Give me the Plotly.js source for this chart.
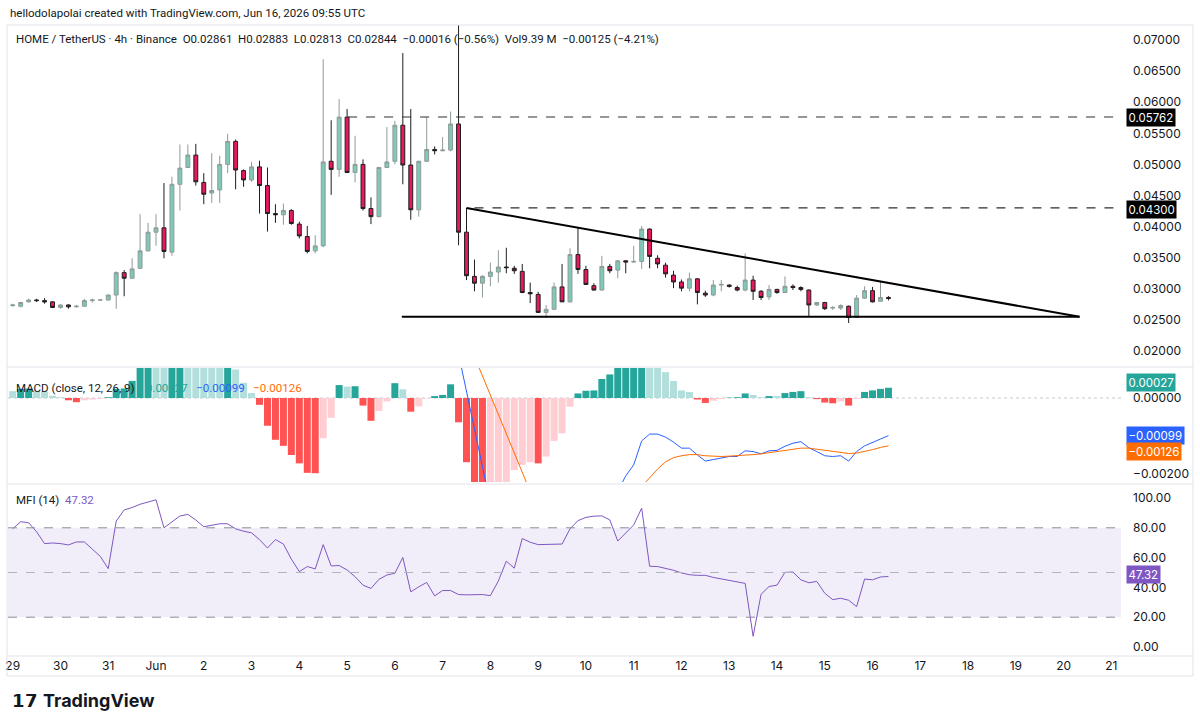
<!DOCTYPE html>
<html>
<head>
<meta charset="utf-8">
<script src="https://cdn.plot.ly/plotly-3.0.1.min.js"></script>
<style>
  html, body { margin: 0; padding: 0; background: #ffffff; }
  #chart { width: 1200px; height: 727px; }
</style>
</head>
<body>
<div id="chart"></div>
<script>
// ---------- DATA ----------
const startTime = '2026-05-29 00:00';   // first 4h bar
const barHours = 4;

const openP = [0.0273,0.0272,0.0279,0.0282,0.0281,0.0279,0.0270,0.0274,0.0271,0.0272,
  0.0281,0.0282,0.0282,0.0290,0.0326,0.0317,0.0333,0.0361,0.0391,0.0398,
  0.0359,0.0468,0.0495,0.0515,0.0471,0.0454,0.0459,0.0500,0.0537,0.0490,
  0.0475,0.0496,0.0466,0.0421,0.0419,0.0426,0.0404,0.0384,0.0361,0.0369,
  0.0505,0.0492,0.0576,0.0487,0.0500,0.0429,0.0416,0.0495,0.0505,0.0563,
  0.0499,0.0427,0.0505,0.0524,0.0522,0.0523,0.0565,0.0391,0.0320,0.0309,
  0.0320,0.0327,0.0335,0.0333,0.0328,0.0294,0.0291,0.0262,0.0267,0.0303,
  0.0279,0.0355,0.0331,0.0305,0.0298,0.0336,0.0330,0.0345,0.0343,0.0344,
  0.0396,0.0349,0.0338,0.0322,0.0311,0.0301,0.0316,0.0293,0.0290,0.0306,
  0.0306,0.0302,0.0298,0.0314,0.0296,0.0287,0.0299,0.0294,0.0304,0.0302,
  0.0298,0.0274,0.0278,0.0269,0.0269,0.0272,0.0254,0.0285,0.0297,0.0280,
  0.02861];
const highP = [0.0276,0.0279,0.0284,0.0284,0.0285,0.0280,0.0275,0.0275,0.0274,0.0284,
  0.0284,0.0283,0.0291,0.0328,0.0330,0.0349,0.0420,0.0406,0.0420,0.0470,
  0.0480,0.0532,0.0532,0.0533,0.0486,0.0518,0.0514,0.0549,0.0540,0.0492,
  0.0504,0.0506,0.0495,0.0436,0.0437,0.0428,0.0408,0.0401,0.0386,0.0669,
  0.0571,0.0605,0.0589,0.0546,0.0508,0.0447,0.0496,0.0560,0.0570,0.0679,
  0.0589,0.0506,0.0576,0.0529,0.0544,0.0585,0.0735,0.0430,0.0347,0.0322,
  0.0342,0.0362,0.0366,0.0337,0.0340,0.0310,0.0295,0.0274,0.0310,0.0340,
  0.0365,0.0398,0.0337,0.0309,0.0353,0.0340,0.0346,0.0346,0.0369,0.0401,
  0.0397,0.0354,0.0342,0.0329,0.0315,0.0326,0.0317,0.0297,0.0314,0.0314,
  0.0307,0.0305,0.0357,0.0321,0.0298,0.0306,0.0300,0.0320,0.0307,0.0304,
  0.0299,0.0279,0.0279,0.0272,0.0275,0.0273,0.0290,0.0304,0.0303,0.0311,
  0.02883];
const lowP = [0.0271,0.0270,0.0278,0.0279,0.0276,0.0269,0.0268,0.0268,0.0270,0.0271,
  0.0278,0.0281,0.0281,0.0268,0.0288,0.0316,0.0332,0.0360,0.0369,0.0349,
  0.0353,0.0426,0.0494,0.0466,0.0436,0.0438,0.0438,0.0486,0.0460,0.0464,
  0.0472,0.0421,0.0392,0.0406,0.0403,0.0403,0.0381,0.0357,0.0357,0.0367,
  0.0451,0.0480,0.0486,0.0471,0.0426,0.0404,0.0415,0.0494,0.0500,0.0468,
  0.0411,0.0416,0.0504,0.0516,0.0521,0.0521,0.0370,0.0314,0.0296,0.0286,
  0.0304,0.0310,0.0325,0.0324,0.0293,0.0277,0.0261,0.0253,0.0266,0.0279,
  0.0278,0.0324,0.0306,0.0297,0.0297,0.0325,0.0317,0.0325,0.0342,0.0332,
  0.0333,0.0333,0.0318,0.0301,0.0296,0.0296,0.0275,0.0287,0.0288,0.0296,
  0.0302,0.0296,0.0296,0.0282,0.0282,0.0282,0.0292,0.0293,0.0298,0.0296,
  0.0255,0.0272,0.0266,0.0266,0.0266,0.0245,0.0253,0.0284,0.0278,0.0280,
  0.02813];
const closeP = [0.0274,0.0278,0.0282,0.0281,0.0279,0.0270,0.0274,0.0271,0.0272,0.0281,
  0.0282,0.02821,0.0290,0.0326,0.0317,0.0332,0.0361,0.0391,0.0398,0.0360,
  0.0468,0.0494,0.0515,0.0472,0.0452,0.0458,0.0500,0.0537,0.0491,0.0475,
  0.0496,0.0466,0.0421,0.0419,0.0426,0.0405,0.0385,0.0360,0.0369,0.0504,
  0.0492,0.0576,0.0487,0.0500,0.0429,0.0416,0.0495,0.0504,0.0563,0.0499,
  0.0427,0.0505,0.0524,0.0522,0.0523,0.0565,0.0391,0.0321,0.0309,0.0320,
  0.0327,0.0335,0.0334,0.0329,0.0294,0.0292,0.0262,0.0267,0.0303,0.0279,
  0.0355,0.0331,0.0307,0.0298,0.0336,0.0329,0.0345,0.0343,0.0344,0.0396,
  0.0352,0.0340,0.0324,0.0311,0.0301,0.0316,0.0294,0.0290,0.0306,0.0307,
  0.0304,0.0298,0.0314,0.0296,0.0286,0.0299,0.0294,0.0304,0.0302,0.0299,
  0.0274,0.0278,0.0268,0.0270,0.0273,0.0254,0.0285,0.0297,0.0279,0.0286,
  0.02844];

const macdHist = [0.00018,0.00024,0.00025,0.00019,0.00017,0.00006,0.00002,-0.00006,-0.00011,-0.00006,
  -0.00004,-0.00002,0.00002,0.00024,0.00025,0.00045,0.00085,0.00120,0.00110,0.00100,
  0.00140,0.00180,0.00170,0.00150,0.00130,0.00110,0.00090,0.00100,0.00075,0.00040,
  0.00013,-0.00018,-0.00073,-0.00110,-0.00126,-0.00150,-0.00172,-0.00197,-0.00198,-0.00106,
  -0.00052,0.00034,0.00030,0.00031,-0.00020,-0.00060,-0.00034,-0.00009,0.00039,0.00023,
  -0.00036,-0.00022,-0.00001,0.00005,0.00008,0.00036,-0.00064,-0.00169,-0.00250,-0.00300,
  -0.00280,-0.00260,-0.00240,-0.00190,-0.00176,-0.00169,-0.00172,-0.00154,-0.00113,-0.00093,
  -0.00023,0.00012,0.00019,0.00020,0.00050,0.00062,0.00080,0.00090,0.00100,0.00110,
  0.00105,0.00089,0.00068,0.00045,0.00020,0.00016,-0.00004,-0.00013,-0.00007,-0.00003,
  0.00001,0.00002,0.00012,0.00008,0.00002,0.00005,0.00005,0.00013,0.00016,0.00018,
  0.00002,-0.00003,-0.00012,-0.00014,-0.00009,-0.00020,-0.00002,0.00016,0.00020,0.00024,
  0.00027];

const N = null;
const macdLine = [N,N,N,N,N,N,N,N,N,N, N,N,N,N,N,N,N,N,N,N, N,N,N,N,N,N,N,N,N,N,
  N,N,N,N,N,N,N,N,N,N, N,N,N,N,N,N,N,N,N,N, N,N,N,N,N,N,
  0.00116,0.00017,-0.00082,-0.00181,-0.00279,
  N,N,N,N,N,N,N,N,N,N,N,N,N,N,N,
  -0.00245,-0.00205,-0.00176,-0.00113,-0.00095,-0.00095,-0.00103,-0.00116,-0.00132,-0.00132,
  -0.00150,-0.00166,-0.00162,-0.00158,-0.00154,-0.00154,-0.00139,-0.00141,-0.00147,-0.00139,
  -0.00138,-0.00127,-0.00119,-0.00115,-0.00131,-0.00141,-0.00152,-0.00154,-0.00152,-0.00166,
  -0.00141,-0.00126,-0.00118,-0.00108,-0.00099];
const signalLine = [N,N,N,N,N,N,N,N,N,N, N,N,N,N,N,N,N,N,N,N, N,N,N,N,N,N,N,N,N,N,
  N,N,N,N,N,N,N,N,N,N, N,N,N,N,N,N,N,N,N,N, N,N,N,N,N,N,N,N,
  0.00109,0.00058,0.00008,-0.00043,-0.00094,-0.00144,-0.00196,-0.00246,
  N,N,N,N,N,N,N,N,N,N,N,N,N,
  -0.00233,-0.00210,-0.00187,-0.00168,-0.00157,-0.00152,-0.00149,-0.00149,-0.00152,-0.00153,
  -0.00154,-0.00153,-0.00152,-0.00150,-0.00149,-0.00147,-0.00144,-0.00141,-0.00138,-0.00136,
  -0.00132,-0.00132,-0.00135,-0.00138,-0.00141,-0.00143,-0.00146,-0.00145,-0.00141,-0.00136,
  -0.00130,-0.00126];

const mfi = [79.3,84.1,83.4,77.3,69.4,69.8,69.4,68.5,70.5,70.5,
  65.7,60.8,52.6,84.5,92.0,93.6,95.8,97.3,98.8,80.0,
  83.8,87.9,89.0,85.2,80.7,81.6,82.7,82.7,79.3,77.7,
  76.6,72.1,66.4,72.1,69.1,59.0,50.6,54.0,52.4,68.7,
  54.4,54.7,51.7,47.2,41.5,39.3,45.4,48.3,49.5,60.1,
  37.0,40.4,43.3,34.3,37.9,37.9,35.2,35.0,35.0,35.2,
  34.5,44.3,57.6,52.9,72.8,70.3,68.7,68.9,69.1,69.1,
  79.3,84.8,87.0,87.8,88.0,85.3,71.1,76.7,81.9,93.2,
  54.2,54.0,53.0,51.5,49.7,48.5,48.1,48.1,46.7,45.6,
  44.7,43.8,42.7,7.2,35.4,40.6,41.5,50.1,50.3,45.1,
  43.1,44.0,36.1,31.8,32.7,31.4,27.1,45.6,45.1,47.0,
  47.32];

// key price levels and drawn pattern
const levelHigh = 0.05762, levelHighFrom = '2026-06-05 00:30';
const levelMid = 0.04300, levelMidFrom = '2026-06-07 16:00';
const triTop = {x: '2026-06-07 12:00', y: 0.0430};
const triApex = {x: '2026-06-20 08:00', y: 0.0255};
const triBaseStart = {x: '2026-06-06 03:30', y: 0.0255};

const priceTicks = [0.02,0.025,0.03,0.035,0.04,0.045,0.05,0.055,0.06,0.065,0.07];
const dayTickDates = ['2026-05-29','2026-05-30','2026-05-31','2026-06-01','2026-06-02','2026-06-03','2026-06-04',
  '2026-06-05','2026-06-06','2026-06-07','2026-06-08','2026-06-09','2026-06-10','2026-06-11','2026-06-12',
  '2026-06-13','2026-06-14','2026-06-15','2026-06-16','2026-06-17','2026-06-18','2026-06-19','2026-06-20','2026-06-21'];
const dayTickLabels = ['29','30','31','Jun','2','3','4','5','6','7','8','9','10','11','12','13','14','15','16','17','18','19','20','21'];
const xRange = ['2026-05-28 21:38', '2026-06-21 04:50'];

// ---------- build ----------
function pad(n){ return (n<10?'0':'') + n; }
const t0 = new Date(startTime.replace(' ','T') + ':00Z').getTime();
const times = openP.map((_, i) => {
  const d = new Date(t0 + i*barHours*3600e3);
  return d.getUTCFullYear()+'-'+pad(d.getUTCMonth()+1)+'-'+pad(d.getUTCDate())+' '+pad(d.getUTCHours())+':00';
});

const histColors = macdHist.map((h, i) => {
  const prev = i > 0 ? macdHist[i-1] : h;
  if (h >= 0) return h > prev ? '#26a69a' : '#b2dfdb';
  return h > prev ? '#ffcdd2' : '#ff5252';
});

const FONT = 'Inter, "Noto Sans", Roboto, sans-serif';
const TFONT = 'Roboto, "Noto Sans", sans-serif';
const TXT = '#131722';

const traces = [
  {type:'candlestick', x: times, open: openP, high: highP, low: lowP, close: closeP,
   xaxis:'x', yaxis:'y', whiskerwidth: 0,
   increasing:{line:{color:'#8e9a98', width:1}, fillcolor:'#7fc9b9'},
   decreasing:{line:{color:'#1e1e1e', width:1}, fillcolor:'#e5195c'},
   hoverinfo:'skip', showlegend:false},
  {type:'bar', x: times, y: macdHist, xaxis:'x', yaxis:'y2',
   marker:{color: histColors, line:{width:0}}, hoverinfo:'skip', showlegend:false},
  {type:'scatter', mode:'lines', x: times, y: macdLine, xaxis:'x', yaxis:'y2',
   line:{color:'#2962ff', width:1}, connectgaps:false, hoverinfo:'skip', showlegend:false},
  {type:'scatter', mode:'lines', x: times, y: signalLine, xaxis:'x', yaxis:'y2',
   line:{color:'#ff6d00', width:1}, connectgaps:false, hoverinfo:'skip', showlegend:false},
  {type:'scatter', mode:'lines', x: times, y: mfi, xaxis:'x', yaxis:'y3',
   line:{color:'#7e57c2', width:1}, hoverinfo:'skip', showlegend:false}
];

// pixel helpers for paper placement (plot area: x 8..1121, y 25..655)
const L = 8, R = 1121, T = 25, B = 655;
const px = v => (v - L) / (R - L);
const py = v => (B - v) / (B - T);

const grey = '#e0e3eb';
const shapes = [
  // frame & pane separators
  {type:'line', xref:'paper', yref:'paper', x0:px(7), x1:px(1193), y0:py(25), y1:py(25), line:{color:grey, width:1}},
  {type:'line', xref:'paper', yref:'paper', x0:px(7), x1:px(1193), y0:py(367), y1:py(367), line:{color:grey, width:1}},
  {type:'line', xref:'paper', yref:'paper', x0:px(7), x1:px(1193), y0:py(484), y1:py(484), line:{color:grey, width:1}},
  {type:'line', xref:'paper', yref:'paper', x0:px(7), x1:px(1193), y0:py(656), y1:py(656), line:{color:grey, width:1}},
  {type:'line', xref:'paper', yref:'paper', x0:px(7), x1:px(1193), y0:py(676), y1:py(676), line:{color:grey, width:1}},
  {type:'line', xref:'paper', yref:'paper', x0:px(7), x1:px(7), y0:py(25), y1:py(676), line:{color:grey, width:1}},
  {type:'line', xref:'paper', yref:'paper', x0:px(1193), x1:px(1193), y0:py(25), y1:py(676), line:{color:grey, width:1}},
  // MFI band and levels
  {type:'rect', xref:'x', yref:'y3', x0:xRange[0], x1:xRange[1], y0:20, y1:80,
   fillcolor:'rgba(126,87,194,0.10)', line:{width:0}, layer:'below'},
  {type:'line', xref:'x', yref:'y3', x0:xRange[0], x1:xRange[1], y0:80, y1:80, line:{color:'#8a8d96', width:1, dash:'dash'}},
  {type:'line', xref:'x', yref:'y3', x0:xRange[0], x1:xRange[1], y0:50, y1:50, line:{color:'#b2b5be', width:1, dash:'dash'}},
  {type:'line', xref:'x', yref:'y3', x0:xRange[0], x1:xRange[1], y0:20, y1:20, line:{color:'#8a8d96', width:1, dash:'dash'}},
  // MACD zero line
  {type:'line', xref:'x', yref:'y2', x0:xRange[0], x1:xRange[1], y0:0, y1:0, line:{color:'#c5c8d0', width:1, dash:'dot'}, layer:'below'},
  // horizontal levels
  {type:'line', xref:'x', yref:'y', x0:levelHighFrom, x1:xRange[1], y0:levelHigh, y1:levelHigh, line:{color:'#2a2e39', width:1.2, dash:'dash'}},
  {type:'line', xref:'x', yref:'y', x0:levelMidFrom, x1:xRange[1], y0:levelMid, y1:levelMid, line:{color:'#2a2e39', width:1.2, dash:'dash'}},
  // triangle
  {type:'line', xref:'x', yref:'y', x0:triTop.x, x1:triApex.x, y0:triTop.y, y1:triApex.y, line:{color:'#000000', width:2}},
  {type:'line', xref:'x', yref:'y', x0:triBaseStart.x, x1:triApex.x, y0:triBaseStart.y, y1:triApex.y, line:{color:'#000000', width:2}}
];

function box(text, yref, y, bg, yshift) {
  return {xref:'paper', yref: yref, x: 1, y: y, xanchor:'left', yanchor:'middle', xshift: 5, yshift: yshift || 0,
    text: text, showarrow:false, bgcolor: bg, borderpad: 1.5,
    font:{family: FONT, size: 11.5, color:'#ffffff'}};
}

const annotations = [
  {xref:'paper', yref:'paper', x: px(8), y: py(13), xanchor:'left', yanchor:'middle', showarrow:false,
   text:'hellodolapolai created with TradingView.com, Jun 16, 2026 09:55 UTC',
   font:{family: TFONT, size: 11.5, color: TXT}},
  {xref:'paper', yref:'paper', x: px(14), y: py(39), xanchor:'left', yanchor:'middle', showarrow:false,
   text:'HOME / TetherUS · 4h · Binance  O0.02861  H0.02883  L0.02813  C0.02844  −0.00016 (−0.56%)  Vol9.39 M  −0.00125 (−4.21%)',
   font:{family: TFONT, size: 11.5, color: TXT}},
  {xref:'paper', yref:'paper', x: px(14), y: py(388), xanchor:'left', yanchor:'middle', showarrow:false,
   text:'MACD (close, 12, 26, 9)    <span style="color:#26a69a">0.00027</span>   <span style="color:#2962ff">−0.00099</span>   <span style="color:#ff6d00">−0.00126</span>',
   font:{family: TFONT, size: 11.5, color: TXT}},
  {xref:'paper', yref:'paper', x: px(14), y: py(500), xanchor:'left', yanchor:'middle', showarrow:false,
   text:'MFI (14)  <span style="color:#7e57c2">47.32</span>',
   font:{family: TFONT, size: 11.5, color: TXT}},
  box('0.05762', 'y', levelHigh, '#000000'),
  box('0.04300', 'y', levelMid, '#000000', -2),
  box('0.00027', 'y2', 0.00024, '#26a69a', 6),
  box('−0.00099', 'y2', -0.00099, '#2962ff'),
  box('−0.00126', 'y2', -0.00140, '#ff6d00'),
  box('47.32', 'y3', 47.32, '#7e57c2', 2),
  {xref:'paper', yref:'paper', x: px(10), y: py(700), xanchor:'left', yanchor:'middle', showarrow:false,
   text:'<b>𝟭𝟳</b> <b>TradingView</b>',
   font:{family: FONT, size: 18, color: '#131722'}}
];

const axisFont = {family: FONT, size: 12, color: TXT};
const layout = {
  width: 1200, height: 727,
  margin: {l: L, r: 1200 - R, t: T, b: 727 - B, pad: 0},
  paper_bgcolor: '#ffffff', plot_bgcolor: '#ffffff',
  showlegend: false, bargap: 0.12, dragmode: false,
  xaxis: {type:'date', range: xRange, domain:[0,1], anchor:'y3',
    tickvals: dayTickDates, ticktext: dayTickLabels, tickfont: axisFont,
    showgrid:false, zeroline:false, showline:false, ticks:'', ticklabelstandoff: 2,
    rangeslider:{visible:false}, fixedrange:true},
  yaxis: {domain:[py(366), 1], range:[0.07 - (366-40)/6220, 0.07 + 15/6220], anchor:'x', side:'right',
    tickvals: priceTicks, ticktext: priceTicks.map(v => v.toFixed(5)), tickfont: axisFont,
    showgrid:false, zeroline:false, showline:false, ticks:'', ticklabelstandoff: 11, fixedrange:true},
  yaxis2: {domain:[py(482), py(368)], range:[-(482-398)*0.00002632, (398-368)*0.00002632], anchor:'x', side:'right',
    tickvals:[0, -0.002], ticktext:['0.00000','−0.00200'], tickfont: axisFont,
    showgrid:false, zeroline:false, showline:false, ticks:'', ticklabelstandoff: 11, fixedrange:true},
  yaxis3: {domain:[0, py(486)], range:[-(655-647)/1.49, (647-486)/1.49], anchor:'x', side:'right',
    tickvals:[0,20,40,60,80,100], ticktext:['0.00','20.00','40.00','60.00','80.00','100.00'], tickfont: axisFont,
    showgrid:false, zeroline:false, showline:false, ticks:'', ticklabelstandoff: 11, fixedrange:true},
  shapes: shapes,
  annotations: annotations
};

Plotly.newPlot('chart', traces, layout, {displayModeBar:false, staticPlot:true});
</script>
</body>
</html>
